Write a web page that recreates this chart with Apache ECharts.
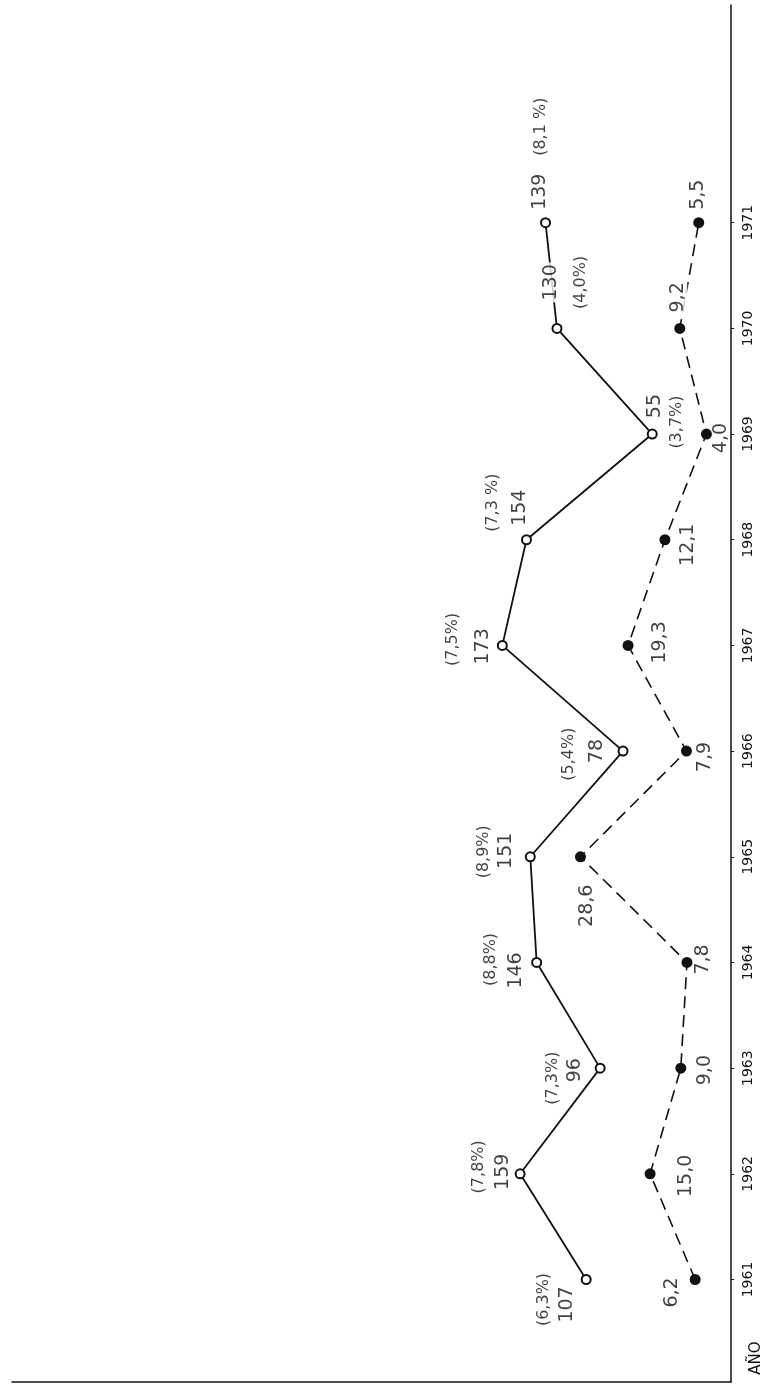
<!DOCTYPE html>
<html><head><meta charset="utf-8">
<script src="https://cdn.jsdelivr.net/npm/echarts@6/dist/echarts.min.js"></script>
<style>html,body{margin:0;padding:0;background:#fff}#c{width:763px;height:1387px}</style>
</head><body><div id="c"></div>
<script>
// ---- data ----
const years = [1961, 1962, 1963, 1964, 1965, 1966, 1967, 1968, 1969, 1970, 1971];
const openValues = [107, 159, 96, 146, 151, 78, 173, 154, 55, 130, 139];
const openPercents = ['(6,3%)', '(7,8%)', '(7,3%)', '(8,8%)', '(8,9%)', '(5,4%)', '(7,5%)', '(7,3 %)', '(3,7%)', '(4,0%)', '(8,1 %)'];
const filledValues = [6.2, 15.0, 9.0, 7.8, 28.6, 7.9, 19.3, 12.1, 4.0, 9.2, 5.5];
const yearTicks = [1961, 1962, 1963, 1964, 1965, 1966, 1967, 1968, 1969, 1970, 1971];
const axisTitle = 'AÑO';

// ---- label placement (page pixel offsets from each point: [right, down]) ----
const openValueOffsets = [[-19,25],[-17,-2],[-25,2],[-21,8],[-24,-6],[-26,0],[-19,1],[-6,-32],[3,-28],[-6,-46],[-5,-31]];
const openPctOffsets = [[-42,20],[-41,-7],[-47,10],[-46,-3],[-46,-5],[-54,3],[-49,-6],[-34,-37],[25,-12],[24,-46],[-5,-96]];
const filledOffsets = [[-23,13],[36,2],[24,2],[16,-3],[7,49],[19,6],[32,-3],[23,5],[15,4],[-2,-31],[-1,-28]];
const whiteBgIndex = 9; // 1970 labels sit on the connecting lines

// label offsets are applied in the rotated text frame -> convert page offsets
function off(p) { return [-p[1], p[0]]; }

const INK = '#111';
const FONT = 'DejaVu Sans';
const baseLabel = {show: true, position: 'inside', rotate: 90, align: 'center', verticalAlign: 'middle', color: INK, fontFamily: FONT};

function labelSeries(name, axisIdx, values, offsets, fmt, size) {
  return {
    name: name, type: 'scatter', xAxisIndex: axisIdx, symbolSize: 2, silent: true, z: 5,
    itemStyle: {color: 'rgba(0,0,0,0)'},
    label: Object.assign({}, baseLabel, {fontSize: size, formatter: fmt}),
    data: values.map((v, i) => {
      const lab = {offset: off(offsets[i])};
      if (i === whiteBgIndex && name !== 'openPct') { lab.backgroundColor = '#fff'; lab.padding = [0, 2]; }
      return {value: [v, years[i]], label: lab};
    })
  };
}

const chart = echarts.init(document.getElementById('c'), null, {renderer: 'canvas'});
chart.setOption({
  animation: false,
  backgroundColor: '#fff',
  grid: {left: 12, right: 32, top: 5, bottom: 5, containLabel: false, outerBoundsMode: 'none'},
  xAxis: [
    {type: 'value', inverse: true, min: -7, max: 559, position: 'bottom',
     axisLine: {show: true, onZero: false, lineStyle: {color: INK, width: 1.5}},
     axisTick: {show: false}, axisLabel: {show: false}, splitLine: {show: false}},
    {type: 'value', inverse: true, min: -0.8, max: 139.6, show: false, position: 'bottom',
     splitLine: {show: false}}
  ],
  yAxis: {
    type: 'value', position: 'right', min: 1960.03, max: 1973.06,
    axisLine: {show: true, onZero: false, lineStyle: {color: INK, width: 1.5}},
    axisTick: {show: true, customValues: yearTicks, length: 3, inside: false, lineStyle: {color: INK, width: 1}},
    axisLabel: {show: true, customValues: yearTicks, rotate: 90, margin: 10, fontSize: 14, color: INK, fontFamily: FONT,
                formatter: v => String(Math.round(v))},
    splitLine: {show: false}
  },
  graphic: [{type: 'text', x: 756, y: 1358, rotation: Math.PI / 2,
             style: {text: axisTitle, fill: INK, font: '15px "DejaVu Sans"', align: 'center', verticalAlign: 'middle'}}],
  series: [
    {name: 'open', type: 'line', xAxisIndex: 0, data: openValues.map((v, i) => [v, years[i]]),
     symbol: 'emptyCircle', symbolSize: 9, z: 3,
     lineStyle: {color: INK, width: 1.8}, itemStyle: {color: INK, borderWidth: 1.5}},
    {name: 'filled', type: 'line', xAxisIndex: 1, data: filledValues.map((v, i) => [v, years[i]]),
     symbol: 'circle', symbolSize: 11, z: 3,
     lineStyle: {color: INK, width: 1.6, type: [12, 7]}, itemStyle: {color: INK}},
    labelSeries('openVal', 0, openValues, openValueOffsets, p => String(openValues[p.dataIndex]), 19),
    labelSeries('openPct', 0, openValues, openPctOffsets, p => openPercents[p.dataIndex], 16),
    labelSeries('filledVal', 1, filledValues, filledOffsets, p => filledValues[p.dataIndex].toFixed(1).replace('.', ','), 19)
  ]
});
</script></body></html>
